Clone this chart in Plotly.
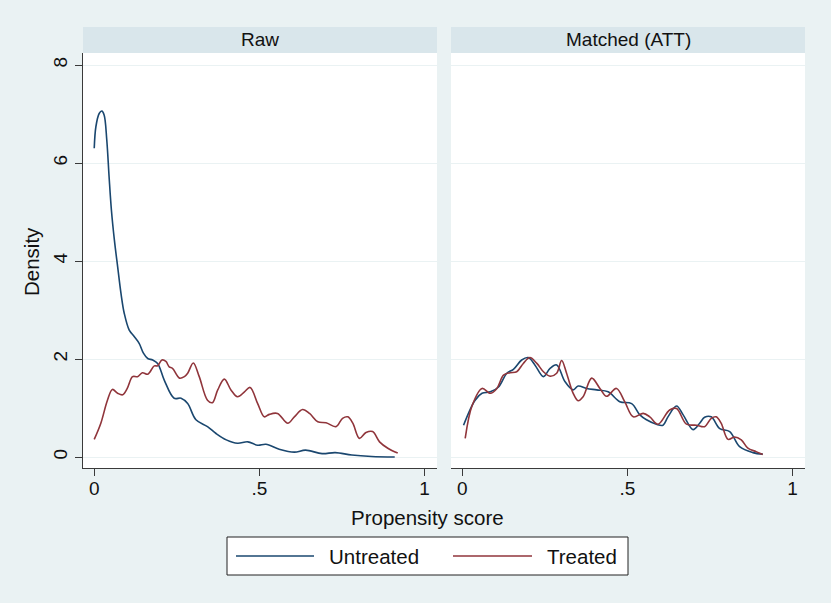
import plotly.graph_objects as go

# ---------------- data ----------------
panels = ["Raw", "Matched (ATT)"]
series_names = ["Untreated", "Treated"]

raw_untreated_x = [0.0, 0.005, 0.015, 0.023, 0.03, 0.038, 0.045, 0.052, 0.061, 0.071, 0.081, 0.091,
                   0.106, 0.121, 0.136, 0.149, 0.162, 0.177, 0.192, 0.212, 0.242, 0.263, 0.283,
                   0.308, 0.343, 0.369, 0.40, 0.434, 0.465, 0.495, 0.52, 0.56, 0.606, 0.64,
                   0.69, 0.73, 0.78, 0.84, 0.91]
raw_untreated_y = [6.30, 6.74, 7.01, 7.06, 6.98, 6.47, 5.72, 5.04, 4.43, 3.88, 3.34, 2.93,
                   2.59, 2.46, 2.32, 2.12, 2.01, 1.98, 1.91, 1.57, 1.20, 1.20, 1.09,
                   0.76, 0.62, 0.48, 0.35, 0.28, 0.31, 0.24, 0.26, 0.16, 0.10, 0.14,
                   0.07, 0.09, 0.04, 0.01, 0.0]

raw_treated_x = [0.0, 0.02, 0.04, 0.055, 0.071, 0.086, 0.10, 0.116, 0.131, 0.146, 0.162, 0.182,
                 0.192, 0.205, 0.217, 0.227, 0.237, 0.258, 0.273, 0.283, 0.30, 0.318, 0.343,
                 0.358, 0.374, 0.394, 0.414, 0.434, 0.455, 0.472, 0.495, 0.515, 0.53, 0.555,
                 0.586, 0.606, 0.631, 0.652, 0.677, 0.702, 0.732, 0.752, 0.768, 0.783, 0.803,
                 0.823, 0.843, 0.864, 0.889, 0.919]
raw_treated_y = [0.36, 0.69, 1.16, 1.38, 1.30, 1.27, 1.40, 1.64, 1.64, 1.72, 1.69, 1.86,
                 1.86, 1.98, 1.95, 1.84, 1.81, 1.61, 1.64, 1.71, 1.92, 1.64, 1.16,
                 1.11, 1.37, 1.59, 1.37, 1.23, 1.33, 1.42, 1.09, 0.82, 0.87, 0.89,
                 0.69, 0.82, 0.97, 0.89, 0.72, 0.70, 0.62, 0.79, 0.82, 0.69, 0.38,
                 0.50, 0.52, 0.31, 0.18, 0.08]

matched_untreated_x = [0.004, 0.039, 0.06, 0.085, 0.11, 0.135, 0.155, 0.18, 0.20, 0.22, 0.246,
                       0.266, 0.286, 0.311, 0.336, 0.351, 0.377, 0.407, 0.442, 0.477, 0.513,
                       0.538, 0.558, 0.588, 0.608, 0.623, 0.649, 0.669, 0.699, 0.719, 0.734,
                       0.754, 0.78, 0.81, 0.84, 0.88, 0.91]
matched_untreated_y = [0.65, 1.16, 1.30, 1.33, 1.43, 1.71, 1.79, 1.98, 2.03, 1.88, 1.64,
                       1.81, 1.88, 1.54, 1.37, 1.45, 1.40, 1.37, 1.33, 1.13, 1.09,
                       0.86, 0.76, 0.67, 0.65, 0.82, 1.04, 0.86, 0.56, 0.69, 0.81,
                       0.82, 0.58, 0.52, 0.21, 0.09, 0.06]

matched_treated_x = [0.009, 0.03, 0.06, 0.085, 0.105, 0.125, 0.145, 0.165, 0.185, 0.205, 0.226,
                     0.246, 0.266, 0.286, 0.301, 0.316, 0.336, 0.351, 0.366, 0.392, 0.417,
                     0.437, 0.467, 0.492, 0.518, 0.548, 0.568, 0.593, 0.628, 0.649, 0.679,
                     0.709, 0.734, 0.754, 0.769, 0.784, 0.805, 0.825, 0.845, 0.865, 0.89, 0.91]
matched_treated_y = [0.38, 1.05, 1.40, 1.30, 1.40, 1.67, 1.72, 1.74, 1.91, 2.03, 1.91,
                     1.74, 1.65, 1.71, 1.97, 1.71, 1.30, 1.15, 1.23, 1.61, 1.40,
                     1.24, 1.40, 1.13, 0.82, 0.89, 0.82, 0.67, 0.96, 0.99, 0.67,
                     0.65, 0.62, 0.79, 0.82, 0.69, 0.36, 0.41, 0.35, 0.18, 0.11, 0.05]

x_tickvals = [0, 0.5, 1]
x_ticktext = ["0", ".5", "1"]
y_tickvals = [0, 2, 4, 6, 8]
y_ticktext = ["0", "2", "4", "6", "8"]

# ---------------- style ----------------
W, H = 831, 603
BG = "#EAF2F3"
STRIP = "#D9E6EB"
GRID = "#EAF2F3"
AXIS = "#3a3a3a"
NAVY = "#1A476F"
MAROON = "#90353B"
FONT = "Liberation Sans, Arial, Helvetica, sans-serif"

def px_x(p):
    return p / W

def px_y(p):
    return 1 - p / H

left_dom = [px_x(83), px_x(437)]
right_dom = [px_x(451), px_x(805)]
y_dom = [px_y(468), px_y(53)]

xr = [-0.034, 1.038]
yr = [-0.224, 8.245]

fig = go.Figure()

def add(x, y, color, xa, ya, name):
    fig.add_trace(go.Scatter(x=x, y=y, mode="lines", name=name, showlegend=False,
                             line=dict(color=color, width=1.6, shape="spline", smoothing=1.0),
                             xaxis=xa, yaxis=ya, hoverinfo="x+y"))

add(raw_untreated_x, raw_untreated_y, NAVY, "x", "y", series_names[0])
add(raw_treated_x, raw_treated_y, MAROON, "x", "y", series_names[1])
add(matched_untreated_x, matched_untreated_y, NAVY, "x2", "y2", series_names[0])
add(matched_treated_x, matched_treated_y, MAROON, "x2", "y2", series_names[1])

xcommon = dict(range=xr, tickvals=x_tickvals, ticktext=x_ticktext, showgrid=False,
               zeroline=False, showline=True, linecolor=AXIS, linewidth=1,
               ticks="outside", ticklen=7, tickcolor=AXIS, tickwidth=1,
               ticklabelstandoff=-4,
               tickfont=dict(family=FONT, size=19, color="#111"), fixedrange=True)
ycommon = dict(range=yr, tickvals=y_tickvals, ticktext=y_ticktext, showgrid=True,
               gridcolor=GRID, gridwidth=1.3, zeroline=False, fixedrange=True)

fig.update_layout(
    width=W, height=H,
    paper_bgcolor=BG, plot_bgcolor="white",
    margin=dict(l=0, r=0, t=0, b=0),
    font=dict(family=FONT, color="#111"),
    showlegend=False,
    xaxis=dict(domain=left_dom, anchor="y", **xcommon),
    xaxis2=dict(domain=right_dom, anchor="y2", **xcommon),
    yaxis=dict(domain=y_dom, anchor="x", showline=True, linecolor=AXIS, linewidth=1,
               ticks="outside", ticklen=7, tickcolor=AXIS, tickwidth=1, tickangle=-90,
               tickfont=dict(family=FONT, size=19, color="#111"), **ycommon),
    yaxis2=dict(domain=y_dom, anchor="x2", showline=False, showticklabels=False,
                ticks="", **ycommon),
)

shapes = []
annotations = []
# panel header strips
for dom, title in zip([left_dom, right_dom], panels):
    shapes.append(dict(type="rect", xref="paper", yref="paper", x0=dom[0], x1=dom[1],
                       y0=px_y(53), y1=px_y(27), fillcolor=STRIP, line=dict(width=0),
                       layer="below"))
    annotations.append(dict(text=title, xref="paper", yref="paper",
                            x=(dom[0] + dom[1]) / 2, y=px_y(39), xanchor="center",
                            yanchor="middle", showarrow=False,
                            font=dict(family=FONT, size=19, color="#111")))

# axis titles
annotations.append(dict(text="Propensity score", xref="paper", yref="paper",
                        x=px_x(427.5), y=px_y(517), xanchor="center", yanchor="middle",
                        showarrow=False, font=dict(family=FONT, size=20.5, color="#111")))
annotations.append(dict(text="Density", xref="paper", yref="paper",
                        x=px_x(31), y=px_y(262), xanchor="center", yanchor="middle",
                        textangle=-90, showarrow=False,
                        font=dict(family=FONT, size=20.5, color="#111")))

# legend box
shapes.append(dict(type="rect", xref="paper", yref="paper", x0=px_x(227), x1=px_x(628),
                   y0=px_y(575), y1=px_y(537), fillcolor="white",
                   line=dict(color="#222", width=1)))
for (lx0, lx1, tx), name, color in zip([(236, 314, 327), (453, 532, 545)], series_names,
                                       [NAVY, MAROON]):
    shapes.append(dict(type="line", xref="paper", yref="paper", x0=px_x(lx0), x1=px_x(lx1),
                       y0=px_y(556), y1=px_y(556), line=dict(color=color, width=1.6)))
    annotations.append(dict(text=name, xref="paper", yref="paper", x=px_x(tx), y=px_y(556),
                            xanchor="left", yanchor="middle", showarrow=False,
                            font=dict(family=FONT, size=20.5, color="#111")))

fig.update_layout(shapes=shapes, annotations=annotations)

fig.write_html("out.html", config={"displayModeBar": False},
               post_script="document.body.style.margin='0px';document.body.style.overflow='hidden';")
